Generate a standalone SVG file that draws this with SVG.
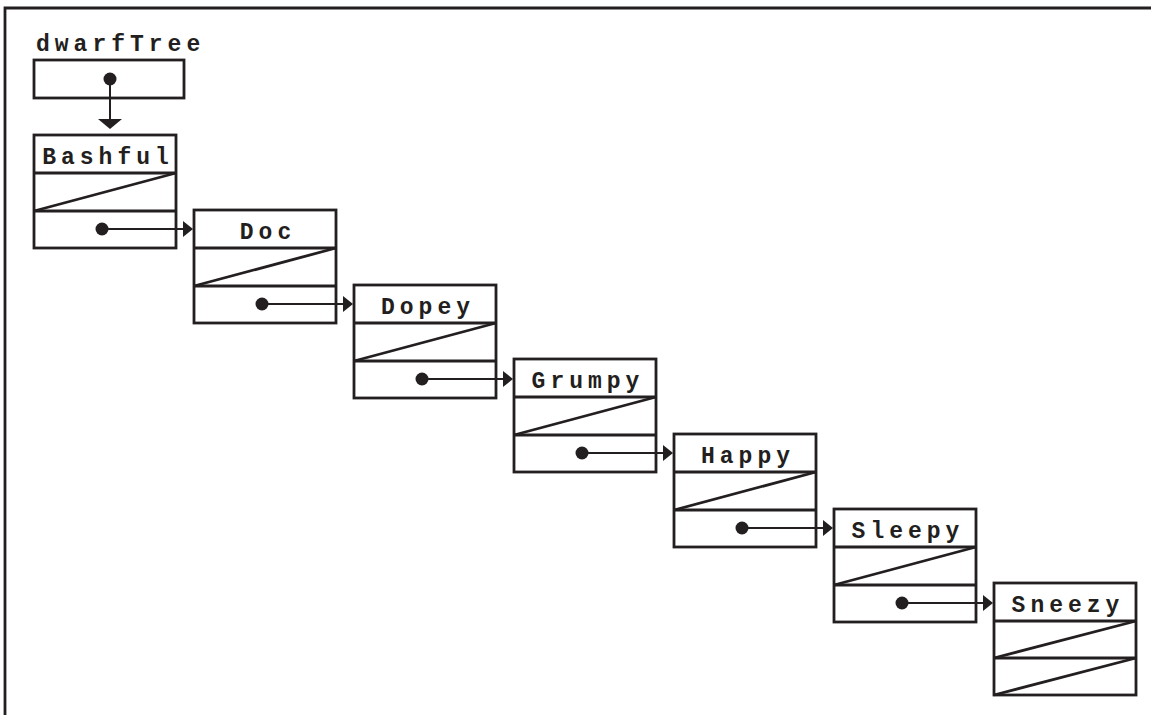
<svg xmlns="http://www.w3.org/2000/svg" width="1151" height="715" viewBox="0 0 1151 715">
<style>
.box{fill:none;stroke:#231f20;stroke-width:2.8}
.ln{stroke:#231f20;stroke-width:2.8;fill:none}
.lbl{font-family:"Liberation Mono","Courier New",monospace;font-weight:bold;font-size:23px;letter-spacing:5px;fill:#231f20}
.dot{fill:#231f20}
.con{stroke:#231f20;stroke-width:2;fill:none}
.head{fill:#231f20}
</style>
<rect width="1151" height="715" fill="#fff"/>
<path class="ln" d="M5,715 V8 H1151"/>
<g id="dwarfTree">
<text class="lbl" x="36" y="51">dwarfTree</text>
<rect class="box" x="34" y="60" width="150" height="38"/>
</g>
<g id="Bashful" transform="translate(34,135)">
<rect class="box" x="0" y="0" width="142" height="113"/>
<line class="ln" x1="0" y1="38" x2="142" y2="38"/><line class="ln" x1="0" y1="76" x2="142" y2="76"/>
<line class="ln" x1="0" y1="76" x2="142" y2="38"/>
<text class="lbl" x="74" y="29" text-anchor="middle">Bashful</text>
</g>
<g id="Doc" transform="translate(194,210)">
<rect class="box" x="0" y="0" width="142" height="113"/>
<line class="ln" x1="0" y1="38" x2="142" y2="38"/><line class="ln" x1="0" y1="76" x2="142" y2="76"/>
<line class="ln" x1="0" y1="76" x2="142" y2="38"/>
<text class="lbl" x="74" y="29" text-anchor="middle">Doc</text>
</g>
<g id="Dopey" transform="translate(354,285)">
<rect class="box" x="0" y="0" width="142" height="113"/>
<line class="ln" x1="0" y1="38" x2="142" y2="38"/><line class="ln" x1="0" y1="76" x2="142" y2="76"/>
<line class="ln" x1="0" y1="76" x2="142" y2="38"/>
<text class="lbl" x="74" y="29" text-anchor="middle">Dopey</text>
</g>
<g id="Grumpy" transform="translate(514,359)">
<rect class="box" x="0" y="0" width="142" height="113"/>
<line class="ln" x1="0" y1="38" x2="142" y2="38"/><line class="ln" x1="0" y1="76" x2="142" y2="76"/>
<line class="ln" x1="0" y1="76" x2="142" y2="38"/>
<text class="lbl" x="74" y="29" text-anchor="middle">Grumpy</text>
</g>
<g id="Happy" transform="translate(674,434)">
<rect class="box" x="0" y="0" width="142" height="113"/>
<line class="ln" x1="0" y1="38" x2="142" y2="38"/><line class="ln" x1="0" y1="76" x2="142" y2="76"/>
<line class="ln" x1="0" y1="76" x2="142" y2="38"/>
<text class="lbl" x="74" y="29" text-anchor="middle">Happy</text>
</g>
<g id="Sleepy" transform="translate(834,509)">
<rect class="box" x="0" y="0" width="142" height="113"/>
<line class="ln" x1="0" y1="38" x2="142" y2="38"/><line class="ln" x1="0" y1="76" x2="142" y2="76"/>
<line class="ln" x1="0" y1="76" x2="142" y2="38"/>
<text class="lbl" x="74" y="29" text-anchor="middle">Sleepy</text>
</g>
<g id="Sneezy" transform="translate(994,583)">
<rect class="box" x="0" y="0" width="142" height="112"/>
<line class="ln" x1="0" y1="38" x2="142" y2="38"/><line class="ln" x1="0" y1="75" x2="142" y2="75"/>
<line class="ln" x1="0" y1="75" x2="142" y2="38"/>
<line class="ln" x1="0" y1="112" x2="142" y2="75"/>
<text class="lbl" x="74" y="29" text-anchor="middle">Sneezy</text>
</g>
<g id="connectors">
<circle class="dot" cx="110" cy="79" r="6.5"/>
<line class="con" x1="110" y1="79" x2="110" y2="121"/>
<path class="head" d="M98,119 H122 L110,129 Z"/>
<g transform="translate(34,135)">
<circle class="dot" cx="68" cy="94" r="6.5"/><line class="con" x1="68" y1="94" x2="150" y2="94"/><path class="head" d="M149,86 L159,94 L149,102 Z"/>
</g>
<g transform="translate(194,210)">
<circle class="dot" cx="68" cy="94" r="6.5"/><line class="con" x1="68" y1="94" x2="150" y2="94"/><path class="head" d="M149,86 L159,94 L149,102 Z"/>
</g>
<g transform="translate(354,285)">
<circle class="dot" cx="68" cy="94" r="6.5"/><line class="con" x1="68" y1="94" x2="150" y2="94"/><path class="head" d="M149,86 L159,94 L149,102 Z"/>
</g>
<g transform="translate(514,359)">
<circle class="dot" cx="68" cy="94" r="6.5"/><line class="con" x1="68" y1="94" x2="150" y2="94"/><path class="head" d="M149,86 L159,94 L149,102 Z"/>
</g>
<g transform="translate(674,434)">
<circle class="dot" cx="68" cy="94" r="6.5"/><line class="con" x1="68" y1="94" x2="150" y2="94"/><path class="head" d="M149,86 L159,94 L149,102 Z"/>
</g>
<g transform="translate(834,509)">
<circle class="dot" cx="68" cy="94" r="6.5"/><line class="con" x1="68" y1="94" x2="150" y2="94"/><path class="head" d="M149,86 L159,94 L149,102 Z"/>
</g>
</g>
</svg>
